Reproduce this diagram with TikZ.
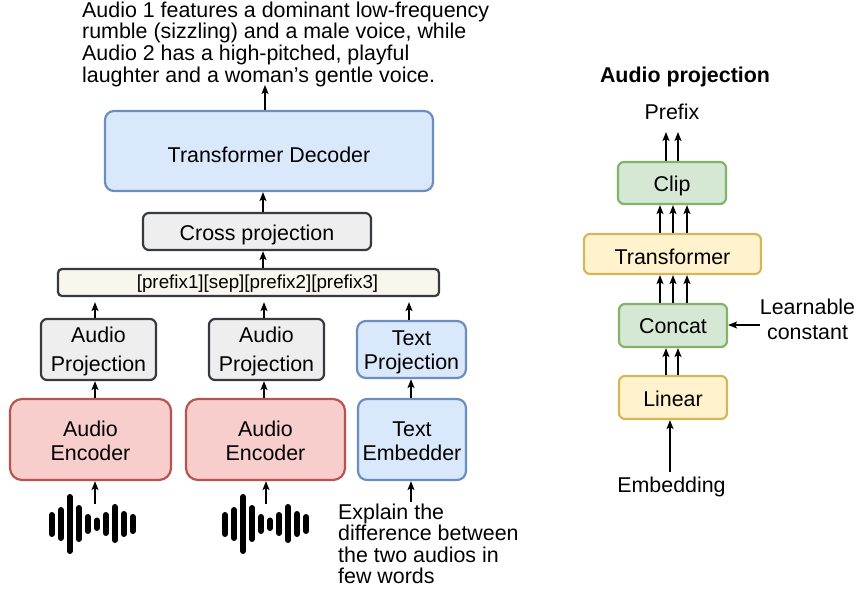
\documentclass[tikz,border=0pt]{standalone}
\usepackage{fontspec}
\setmainfont{Liberation Sans}
\usetikzlibrary{arrows.meta}
\definecolor{bluef}{HTML}{DAE8FC}\definecolor{blued}{HTML}{6C8EBF}
\definecolor{grayf}{HTML}{EEEEEE}\definecolor{grayd}{HTML}{36393D}
\definecolor{redf}{HTML}{F8CECC}\definecolor{redd}{HTML}{B85450}
\definecolor{greenf}{HTML}{D5E8D4}\definecolor{greend}{HTML}{82B366}
\definecolor{yellowf}{HTML}{FFF2CC}\definecolor{yellowd}{HTML}{D6B656}
\definecolor{creamf}{HTML}{F9F7ED}
\tikzset{
  boxbase/.style={draw,rounded corners=#1,line width=2.2pt,inner sep=0pt,align=center,text=black,font=\fontsize{21.4}{24}\selectfont},
  boxbase/.default=8pt,
  texttop/.style={execute at begin node={\rule{0pt}{#1pt}}},
  bluebox/.style={boxbase=9pt,fill=bluef,draw=blued},
  graybox/.style={boxbase=6pt,fill=grayf,draw=grayd},
  redbox/.style={boxbase=12pt,fill=redf,draw=redd},
  greenbox/.style={boxbase=6pt,fill=greenf,draw=greend},
  yellowbox/.style={boxbase=6pt,fill=yellowf,draw=yellowd},
  label/.style={inner sep=0pt,align=center,font=\fontsize{21.4}{24}\selectfont},
  arr/.style={-{Stealth[length=9pt,width=7pt,inset=2pt]},line width=1.3pt,black},
  bar/.style={line width=6pt,line cap=round,black},
}
\newcommand{\boxat}[6]{\node[#1,minimum width=#4pt-#2pt,minimum height=#5pt-#3pt] (#6) at ({(#2+#4)/2},{(#3+#5)/2})}
\newcommand{\wave}[1]{%
  \begin{scope}[xshift=#1pt]
  \foreach \x/\a/\b in {51.7/515/534,60.7/510/538,69.7/497/551,78.7/508/539,87.7/517/531,96.7/520.5/528,105.7/515/533,114.7/507/540,123.7/514/534,132.7/517/531}
    \draw[bar] (\x,\a) -- (\x,\b);
  \end{scope}}
\begin{document}
\begin{tikzpicture}[x=1pt,y=-1pt]
\useasboundingbox (0,0) rectangle (857,592);
% left
\boxat{bluebox,texttop=23}{105}{111}{433}{191}{dec} {Transformer Decoder};
\boxat{graybox,texttop=23}{143}{213}{371}{250}{cross} {Cross projection};
\node[boxbase=4pt,fill=creamf,draw=grayd,minimum width=381pt,minimum height=27pt,font=\fontsize{18.8}{22}\selectfont] (pre) at (248.5,282.5) {\hspace*{18pt}\raisebox{-6pt}[0pt][0pt]{[prefix1][sep][prefix2][prefix3]}};
\boxat{graybox}{41}{319}{156}{380}{apa} {\mbox{}\\[-4.5pt]Audio\\[5pt]Projection};
\boxat{graybox}{209}{319}{324}{380}{apb} {\mbox{}\\[-4.5pt]Audio\\[5pt]Projection};
\boxat{bluebox}{357}{321}{466}{378}{tp} {\mbox{}\\[-4.5pt]Text\\Projection};
\boxat{redbox}{10}{399}{171}{480}{aea} {\mbox{}\\[-6.5pt]Audio\\Encoder};
\boxat{redbox}{186}{399}{345}{480}{aeb} {\mbox{}\\[-6.5pt]Audio\\Encoder};
\boxat{bluebox}{358}{399}{466}{480}{te} {\mbox{}\\[-6.5pt]Text\\Embedder};
\node[label,align=left,anchor=north west] (top) at (82,1.5) {Audio 1 features a dominant low-frequency\\[-2.3pt]rumble (sizzling) and a male voice, while\\[-2.3pt]Audio 2 has a high-pitched, playful\\[-2.3pt]laughter and a woman's gentle voice.};
\node[label,align=left,anchor=north west] (q) at (338,503.5) {Explain the\\[-2.5pt]difference between\\[-2.5pt]the two audios in\\[-2.5pt]few words};
\wave{0}\wave{173.3}
\coordinate (topend) at (265,85);
\coordinate (wa) at (95,504);
\coordinate (wb) at (266,504);
\coordinate (qa) at (411,502);
\draw[arr] (dec.north -| topend) -- (topend);
\draw[arr] (cross.north -| 263,0) -- (dec.south -| 263,0);
\draw[arr] (pre.north -| 263,0) -- (cross.south -| 263,0);
\draw[arr,shorten >=5pt] (apa.north -| 95,0) -- (pre.south -| 95,0);
\draw[arr,shorten >=5pt] (apb.north -| 264,0) -- (pre.south -| 264,0);
\draw[arr,shorten >=5pt] (tp.north -| 409,0) -- (pre.south -| 409,0);
\draw[arr] (aea.north -| 95,0) -- (apa.south -| 95,0);
\draw[arr] (aeb.north -| 264,0) -- (apb.south -| 264,0);
\draw[arr] (te.north -| 411,0) -- (tp.south -| 411,0);
\draw[arr] (wa) -- (aea.south -| wa);
\draw[arr] (wb) -- (aeb.south -| wb);
\draw[arr] (qa) -- (te.south -| qa);
% right
\node[inner sep=0pt,font=\fontsize{21.4}{24}\selectfont\bfseries] (title) at (685,77) {Audio projection};
\node[label] (prefix) at (672,112) {Prefix};
\boxat{greenbox,texttop=21}{618}{162}{726}{204}{clip} {Clip};
\boxat{yellowbox,texttop=21}{584}{234}{761}{274}{trans} {Transformer};
\boxat{greenbox,texttop=17}{619}{304}{727}{347}{concat} {Concat};
\boxat{yellowbox,texttop=19}{619}{376}{727}{419}{linear} {Linear};
\node[label] (emb) at (671.5,487) {Embedding};
\node[label] (lc) at (807.5,319.5) {Learnable\\[1pt]constant};
\coordinate (pa) at (666,132);
\coordinate (pb) at (678,132);
\draw[arr] (clip.north -| pa) -- (pa);
\draw[arr] (clip.north -| pb) -- (pb);
\foreach \x in {660,673,687}{
  \draw[arr] (trans.north -| \x,0) -- (clip.south -| \x,0);
  \draw[arr] (concat.north -| \x,0) -- (trans.south -| \x,0);
}
\draw[arr] (linear.north -| pa) -- (concat.south -| pa);
\draw[arr] (linear.north -| pb) -- (concat.south -| pb);
\coordinate (ea) at (670,472);
\draw[arr] (ea) -- (linear.south -| ea);
\draw[arr] (lc.west |- 0,325) -- (concat.east |- 0,325);
\end{tikzpicture}
\end{document}
